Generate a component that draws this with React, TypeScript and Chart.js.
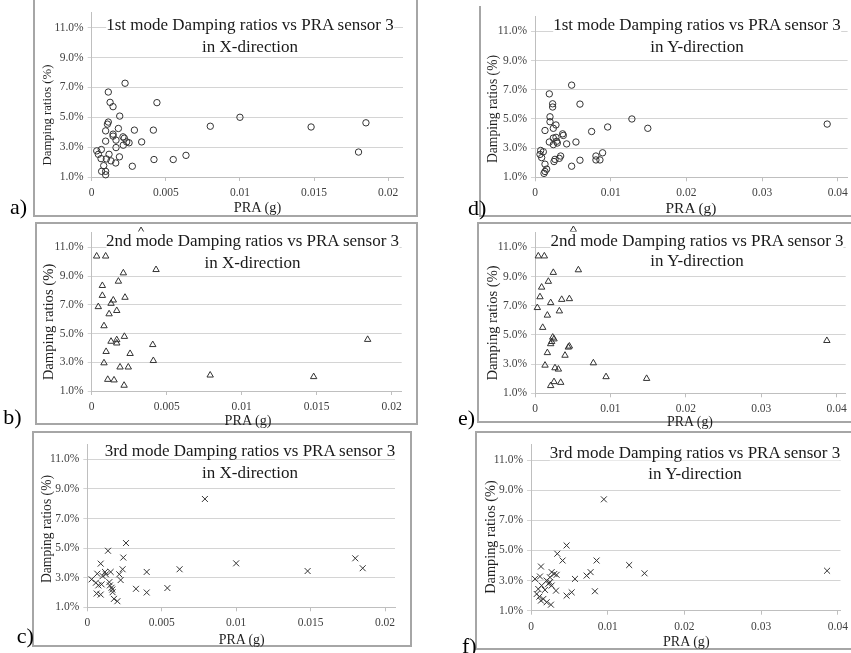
import React, { useEffect, useRef } from "react";
import { Chart, registerables } from "chart.js";
Chart.register(...registerables);

// ---- tick values ----
const yTicks = [1, 3, 5, 7, 9, 11];
const xTicksNear = [0, 0.005, 0.01, 0.015, 0.02];
const xTicksFar = [0, 0.01, 0.02, 0.03, 0.04];

// ---- data (PRA in g, damping ratio in %) ----
// a) 1st mode, X-direction
const pra1X = [0.00225, 0.00112, 0.00124, 0.00144, 0.0044, 0.00189, 0.00112, 0.00106, 0.0018, 0.00288, 0.00416, 0.00094, 0.00144, 0.00144, 0.00211, 0.0022, 0.00164, 0.00236, 0.00252, 0.00094, 0.00337, 0.00164, 0.00213, 0.00065, 0.00034, 0.00045, 0.00117, 0.00187, 0.00063, 0.00099, 0.0013, 0.00162, 0.00274, 0.0042, 0.0055, 0.00081, 0.00067, 0.00094, 0.00094, 0.00636, 0.008, 0.01, 0.0148, 0.018, 0.0185];
const damp1X = [7.28, 6.69, 6.0, 5.71, 5.98, 5.08, 4.68, 4.54, 4.25, 4.14, 4.14, 4.09, 3.87, 3.74, 3.69, 3.6, 3.47, 3.35, 3.29, 3.4, 3.35, 2.97, 3.13, 2.84, 2.75, 2.52, 2.52, 2.35, 2.23, 2.21, 2.08, 1.94, 1.72, 2.17, 2.17, 1.76, 1.38, 1.38, 1.15, 2.45, 4.4, 5.0, 4.35, 2.67, 4.63];
// b) 2nd mode, X-direction
const pra2X = [0.00329, 0.00033, 0.00093, 0.00211, 0.00429, 0.00178, 0.00071, 0.00071, 0.00144, 0.00129, 0.00222, 0.00044, 0.00167, 0.00116, 0.00082, 0.00218, 0.00167, 0.00129, 0.00167, 0.00407, 0.00096, 0.00256, 0.00082, 0.00411, 0.00189, 0.00244, 0.00107, 0.00149, 0.00216, 0.0079, 0.0148, 0.0184];
const damp2X = [12.15, 10.38, 10.38, 9.21, 9.44, 8.63, 8.33, 7.64, 7.32, 7.09, 7.51, 6.86, 6.59, 6.36, 5.53, 4.79, 4.56, 4.45, 4.33, 4.22, 3.74, 3.6, 2.95, 3.11, 2.66, 2.66, 1.8, 1.76, 1.39, 2.1, 1.99, 4.58];
// c) 3rd mode, X-direction
const pra3X = [0.0026, 0.00139, 0.00242, 0.0009, 0.00067, 0.00119, 0.00125, 0.00157, 0.00215, 0.00237, 0.00103, 0.00399, 0.0062, 0.00029, 0.00058, 0.00074, 0.00096, 0.00148, 0.00152, 0.00163, 0.00168, 0.00224, 0.0017, 0.00327, 0.00399, 0.00538, 0.00063, 0.0009, 0.00179, 0.00202, 0.0079, 0.01, 0.0148, 0.018, 0.0185];
const damp3X = [5.34, 4.82, 4.36, 3.95, 3.27, 3.39, 3.23, 3.39, 3.23, 3.57, 3.11, 3.39, 3.57, 2.89, 2.66, 2.48, 2.55, 2.7, 2.48, 2.32, 2.2, 2.84, 2.02, 2.25, 2.0, 2.3, 1.93, 1.86, 1.57, 1.41, 8.32, 3.97, 3.45, 4.31, 3.64];
// d) 1st mode, Y-direction
const pra1Y = [0.00484, 0.00189, 0.00233, 0.00233, 0.00594, 0.00198, 0.00198, 0.00277, 0.00242, 0.00132, 0.00748, 0.00365, 0.00374, 0.00277, 0.00242, 0.00189, 0.00286, 0.00295, 0.00418, 0.00541, 0.00242, 0.00075, 0.0011, 0.00066, 0.00088, 0.00339, 0.00321, 0.00893, 0.00805, 0.00805, 0.00858, 0.00594, 0.00264, 0.00251, 0.00132, 0.00484, 0.00154, 0.00132, 0.00119, 0.0128, 0.0096, 0.0149, 0.0386];
const damp1Y = [7.32, 6.72, 6.04, 5.82, 6.02, 5.15, 4.81, 4.59, 4.36, 4.21, 4.14, 3.98, 3.87, 3.74, 3.69, 3.42, 3.47, 3.35, 3.29, 3.42, 3.24, 2.84, 2.75, 2.57, 2.35, 2.46, 2.3, 2.68, 2.46, 2.19, 2.19, 2.17, 2.23, 2.08, 1.9, 1.76, 1.56, 1.4, 1.27, 5.0, 4.45, 4.36, 4.65];
// e) 2nd mode, Y-direction
const pra2Y = [0.00509, 0.00044, 0.00124, 0.00243, 0.00575, 0.00177, 0.00088, 0.00066, 0.00354, 0.00456, 0.00208, 0.00031, 0.00164, 0.00323, 0.00102, 0.00235, 0.00252, 0.00221, 0.00208, 0.00456, 0.00442, 0.00164, 0.00398, 0.00133, 0.00774, 0.00265, 0.0031, 0.00942, 0.00252, 0.00341, 0.00208, 0.0148, 0.0387];
const damp2Y = [12.22, 10.41, 10.41, 9.28, 9.46, 8.67, 8.27, 7.61, 7.43, 7.48, 7.21, 6.87, 6.35, 6.64, 5.51, 4.84, 4.72, 4.54, 4.39, 4.23, 4.16, 3.78, 3.6, 2.92, 3.08, 2.74, 2.65, 2.13, 1.79, 1.74, 1.52, 2.01, 4.61];
// f) 3rd mode, Y-direction
const pra3Y = [0.00464, 0.00343, 0.00412, 0.00855, 0.0013, 0.00573, 0.00725, 0.00777, 0.00269, 0.00304, 0.00334, 0.00117, 0.00247, 0.00052, 0.00204, 0.00247, 0.00226, 0.00269, 0.00326, 0.00139, 0.00095, 0.00182, 0.00833, 0.0053, 0.00464, 0.00109, 0.00161, 0.0013, 0.00204, 0.0026, 0.00074, 0.0095, 0.0128, 0.0148, 0.0386];
const damp3Y = [5.33, 4.78, 4.33, 4.33, 3.93, 3.11, 3.33, 3.56, 3.56, 3.44, 3.38, 3.27, 3.22, 3.11, 3.0, 2.89, 2.78, 2.67, 2.33, 2.67, 2.44, 2.38, 2.29, 2.22, 2.0, 1.93, 1.78, 1.67, 1.56, 1.4, 2.11, 8.39, 4.03, 3.48, 3.65];

const yTitleText = "Damping ratios (%)";
const xTitleText = "PRA (g)";

const SERIF = "'Liberation Serif', 'Times New Roman', Times, serif";

type Panel = {
  label: string;
  title1: string;
  title2: string;
  pra: number[];
  damp: number[];
  marker: string;
  radius: number;
  xTicks: number[];
  xMax: number;
  frame: { l: number; t: number; r: number; b: number };
  borders: { top: boolean; right: boolean };
  plot: { l: number; r: number; y1: number; y11: number };
  title: { cx: number; cy1: number; cy2: number };
  yTitle: { cx: number; cy: number; size: number };
  xTitle: { cx: number; cy: number; size: number };
  tag: { x: number; base: number };
};

const panels: Panel[] = [
  {
    label: "a)", title1: "1st mode Damping ratios vs PRA sensor 3", title2: "in X-direction",
    pra: pra1X, damp: damp1X, marker: "circle", radius: 3.2, xTicks: xTicksNear, xMax: 0.021,
    frame: { l: 33, t: -2, r: 418, b: 217 }, borders: { top: false, right: true },
    plot: { l: 91.7, r: 403, y1: 177, y11: 27.7 },
    title: { cx: 250, cy1: 24, cy2: 46 },
    yTitle: { cx: 46.7, cy: 115.3, size: 12.7 },
    xTitle: { cx: 257.5, cy: 207, size: 14.4 },
    tag: { x: 10, base: 214.5 },
  },
  {
    label: "b)", title1: "2nd mode Damping ratios vs PRA sensor 3", title2: "in X-direction",
    pra: pra2X, damp: damp2X, marker: "triangle", radius: 3.7, xTicks: xTicksNear, xMax: 0.02067,
    frame: { l: 35, t: 222, r: 418, b: 425 }, borders: { top: true, right: true },
    plot: { l: 91.7, r: 401.7, y1: 391, y11: 245.7 },
    title: { cx: 252.5, cy1: 240, cy2: 261.7 },
    yTitle: { cx: 48.3, cy: 321.7, size: 14.7 },
    xTitle: { cx: 248, cy: 420, size: 14.2 },
    tag: { x: 3.3, base: 424 },
  },
  {
    label: "c)", title1: "3rd mode Damping ratios vs PRA sensor 3", title2: "in X-direction",
    pra: pra3X, damp: damp3X, marker: "crossRot", radius: 4.2, xTicks: xTicksNear, xMax: 0.02067,
    frame: { l: 32, t: 431, r: 412, b: 647 }, borders: { top: true, right: true },
    plot: { l: 87.3, r: 395, y1: 607.3, y11: 459.3 },
    title: { cx: 250, cy1: 450, cy2: 471.7 },
    yTitle: { cx: 46.7, cy: 529, size: 13.6 },
    xTitle: { cx: 241.7, cy: 640, size: 13.9 },
    tag: { x: 16.7, base: 643 },
  },
  {
    label: "d)", title1: "1st mode Damping ratios vs PRA sensor 3", title2: "in Y-direction",
    pra: pra1Y, damp: damp1Y, marker: "circle", radius: 3.2, xTicks: xTicksFar, xMax: 0.0413,
    frame: { l: 479, t: 6, r: 853, b: 217 }, borders: { top: false, right: false },
    plot: { l: 535, r: 848, y1: 177.3, y11: 28.3 },
    title: { cx: 697, cy1: 24, cy2: 45.5 },
    yTitle: { cx: 493.3, cy: 109, size: 13.6 },
    xTitle: { cx: 691, cy: 208, size: 15.4 },
    tag: { x: 468, base: 215 },
  },
  {
    label: "e)", title1: "2nd mode Damping ratios vs PRA sensor 3", title2: "in Y-direction",
    pra: pra2Y, damp: damp2Y, marker: "triangle", radius: 3.7, xTicks: xTicksFar, xMax: 0.0412,
    frame: { l: 477, t: 222, r: 853, b: 423 }, borders: { top: true, right: false },
    plot: { l: 535, r: 845.7, y1: 393.3, y11: 245.7 },
    title: { cx: 697, cy1: 240, cy2: 260 },
    yTitle: { cx: 491.7, cy: 322.5, size: 14.5 },
    xTitle: { cx: 690, cy: 422, size: 13.9 },
    tag: { x: 458, base: 425 },
  },
  {
    label: "f)", title1: "3rd mode Damping ratios vs PRA sensor 3", title2: "in Y-direction",
    pra: pra3Y, damp: damp3Y, marker: "crossRot", radius: 4.2, xTicks: xTicksFar, xMax: 0.04035,
    frame: { l: 475, t: 431, r: 853, b: 650 }, borders: { top: true, right: false },
    plot: { l: 531, r: 841, y1: 610.7, y11: 460 },
    title: { cx: 695, cy1: 451.6, cy2: 473.3 },
    yTitle: { cx: 490, cy: 536.7, size: 14.3 },
    xTitle: { cx: 686.3, cy: 640.5, size: 14.1 },
    tag: { x: 462, base: 653 },
  },
];

function ChartPanel({ p }: { p: Panel }) {
  const ref = useRef<HTMLCanvasElement>(null);
  const W = p.frame.r - p.frame.l;
  const H = p.frame.b - p.frame.t;
  useEffect(() => {
    if (!ref.current) return;
    const left = p.plot.l - p.frame.l;
    const right = p.plot.r - p.frame.l;
    const bottom = p.plot.y1 - p.frame.t;
    const top = p.plot.y11 - (p.plot.y1 - p.plot.y11) / 10 - p.frame.t;
    const chart = new Chart(ref.current, {
      type: "scatter",
      data: {
        datasets: [
          {
            data: p.pra.map((x, i) => ({ x, y: p.damp[i] })),
            pointStyle: p.marker as any,
            pointRadius: p.radius,
            pointBorderWidth: 1,
            borderColor: "#333333",
            backgroundColor: "rgba(0,0,0,0)",
            clip: false as any,
          },
        ],
      },
      options: {
        responsive: false,
        animation: false,
        devicePixelRatio: 1,
        events: [],
        layout: { padding: { left: 0, top, right: W - right, bottom: 0 } },
        plugins: { legend: { display: false }, tooltip: { enabled: false }, title: { display: false } },
        scales: {
          x: {
            type: "linear",
            min: 0,
            max: p.xMax,
            afterBuildTicks: (s: any) => {
              s.ticks = p.xTicks.map((v) => ({ value: v }));
            },
            afterFit: (s: any) => {
              s.height = H - bottom;
            },
            grid: { drawOnChartArea: false, drawTicks: true, tickLength: 4, color: "#bfbfbf" },
            border: { color: "#bfbfbf", width: 1 },
            ticks: {
              font: { family: SERIF, size: 11.5 },
              color: "#404040",
              padding: 5,
              maxRotation: 0,
              autoSkip: false,
              callback: (v: any) => String(+Number(v).toFixed(4)),
            },
          },
          y: {
            type: "linear",
            min: 1,
            max: 12,
            afterBuildTicks: (s: any) => {
              s.ticks = yTicks.map((v) => ({ value: v }));
            },
            afterFit: (s: any) => {
              s.width = left;
            },
            grid: { color: "#d4d4d4", tickLength: 4, drawTicks: true },
            border: { color: "#bfbfbf", width: 1 },
            ticks: {
              font: { family: SERIF, size: 11.5 },
              color: "#404040",
              padding: 4,
              callback: (v: any) => Number(v).toFixed(1) + "%",
            },
          },
        },
      },
    });
    return () => chart.destroy();
  }, []);
  return (
    <canvas
      ref={ref}
      width={W}
      height={H}
      style={{ position: "absolute", left: p.frame.l, top: p.frame.t, width: W, height: H }}
    />
  );
}

function Overlay({ p }: { p: Panel }) {
  const titleStyle: React.CSSProperties = {
    position: "absolute",
    transform: "translate(-50%, -50%)",
    whiteSpace: "nowrap",
    fontFamily: SERIF,
    fontSize: 17,
    lineHeight: "17px",
    color: "#1a1a1a",
    background: "#fff",
  };
  return (
    <>
      <div
        style={{
          position: "absolute",
          left: p.frame.l,
          top: p.frame.t,
          width: p.frame.r - p.frame.l,
          height: p.frame.b - p.frame.t,
          boxSizing: "border-box",
          border: "2px solid #a6a6a6",
          borderTopStyle: p.borders.top ? "solid" : "none",
          borderRightStyle: p.borders.right ? "solid" : "none",
          pointerEvents: "none",
        }}
      />
      <div style={{ ...titleStyle, left: p.title.cx, top: p.title.cy1 }}>{p.title1}</div>
      <div style={{ ...titleStyle, left: p.title.cx, top: p.title.cy2 }}>{p.title2}</div>
      <div
        style={{
          position: "absolute",
          left: p.yTitle.cx,
          top: p.yTitle.cy,
          transform: "translate(-50%, -50%) rotate(-90deg)",
          whiteSpace: "nowrap",
          fontFamily: SERIF,
          fontSize: p.yTitle.size,
          lineHeight: 1,
          color: "#1f1f1f",
        }}
      >
        {yTitleText}
      </div>
      <div
        style={{
          position: "absolute",
          left: p.xTitle.cx,
          top: p.xTitle.cy,
          transform: "translate(-50%, -50%)",
          whiteSpace: "nowrap",
          fontFamily: SERIF,
          fontSize: p.xTitle.size,
          lineHeight: 1,
          color: "#1f1f1f",
        }}
      >
        {xTitleText}
      </div>
      <div
        style={{
          position: "absolute",
          left: p.tag.x,
          top: p.tag.base - 18.4,
          whiteSpace: "nowrap",
          fontFamily: SERIF,
          fontSize: 22,
          lineHeight: "22px",
          color: "#000",
        }}
      >
        {p.label}
      </div>
    </>
  );
}

export default function App() {
  return (
    <div
      style={{
        position: "absolute",
        left: 0,
        top: 0,
        width: 851,
        height: 653,
        background: "#fff",
        overflow: "hidden",
      }}
    >
      {panels.map((p) => (
        <ChartPanel key={"c" + p.label} p={p} />
      ))}
      {panels.map((p) => (
        <Overlay key={"o" + p.label} p={p} />
      ))}
    </div>
  );
}
